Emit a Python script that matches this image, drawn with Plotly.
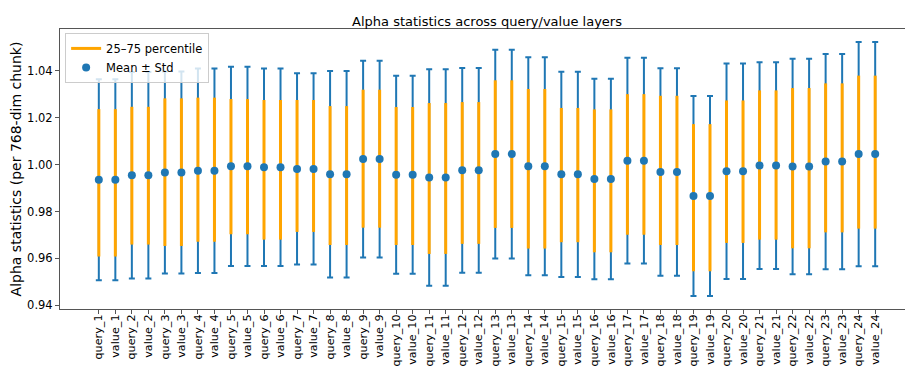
import plotly.graph_objects as go

labels = ["query_1", "value_1", "query_2", "value_2", "query_3", "value_3", "query_4", "value_4",
          "query_5", "value_5", "query_6", "value_6", "query_7", "value_7", "query_8", "value_8",
          "query_9", "value_9", "query_10", "value_10", "query_11", "value_11", "query_12", "value_12",
          "query_13", "value_13", "query_14", "value_14", "query_15", "value_15", "query_16", "value_16",
          "query_17", "value_17", "query_18", "value_18", "query_19", "value_19", "query_20", "value_20",
          "query_21", "value_21", "query_22", "value_22", "query_23", "value_23", "query_24", "value_24"]

means = [0.9936, 0.9936, 0.9955, 0.9955, 0.9967, 0.9967, 0.9974, 0.9974,
         0.9993, 0.9993, 0.9989, 0.9989, 0.9982, 0.9982, 0.9959, 0.9959,
         1.0024, 1.0024, 0.9957, 0.9957, 0.9945, 0.9945, 0.9976, 0.9976,
         1.0045, 1.0045, 0.9993, 0.9993, 0.9959, 0.9959, 0.9939, 0.9939,
         1.0017, 1.0017, 0.9969, 0.9969, 0.9866, 0.9866, 0.9972, 0.9972,
         0.9996, 0.9996, 0.9992, 0.9992, 1.0013, 1.0013, 1.0045, 1.0045]

stds = [0.0429, 0.0429, 0.0441, 0.0441, 0.0431, 0.0431, 0.0436, 0.0436,
        0.0425, 0.0425, 0.0421, 0.0421, 0.0408, 0.0408, 0.0441, 0.0441,
        0.0420, 0.0420, 0.0423, 0.0423, 0.0462, 0.0462, 0.0437, 0.0437,
        0.0445, 0.0445, 0.0465, 0.0465, 0.0438, 0.0438, 0.0428, 0.0428,
        0.0439, 0.0439, 0.0443, 0.0443, 0.0427, 0.0427, 0.0460, 0.0460,
        0.0441, 0.0441, 0.0460, 0.0460, 0.0459, 0.0459, 0.0479, 0.0479]

p25 = [0.9608, 0.9608, 0.9659, 0.9659, 0.9653, 0.9653, 0.9671, 0.9671,
       0.9703, 0.9703, 0.9680, 0.9680, 0.9713, 0.9713, 0.9657, 0.9657,
       0.9731, 0.9731, 0.9657, 0.9657, 0.9619, 0.9619, 0.9662, 0.9662,
       0.9730, 0.9730, 0.9642, 0.9642, 0.9669, 0.9669, 0.9626, 0.9626,
       0.9701, 0.9701, 0.9657, 0.9657, 0.9545, 0.9545, 0.9666, 0.9666,
       0.9680, 0.9680, 0.9643, 0.9643, 0.9711, 0.9711, 0.9727, 0.9727]

p75 = [1.0237, 1.0237, 1.0247, 1.0247, 1.0283, 1.0283, 1.0286, 1.0286,
       1.0280, 1.0280, 1.0276, 1.0276, 1.0276, 1.0276, 1.0250, 1.0250,
       1.0320, 1.0320, 1.0246, 1.0246, 1.0263, 1.0263, 1.0267, 1.0267,
       1.0360, 1.0360, 1.0323, 1.0323, 1.0242, 1.0242, 1.0236, 1.0236,
       1.0301, 1.0301, 1.0294, 1.0294, 1.0173, 1.0173, 1.0274, 1.0274,
       1.0317, 1.0317, 1.0327, 1.0327, 1.0347, 1.0347, 1.0380, 1.0380]

blue = "#1f77b4"
orange = "#ffa500"
x = list(range(len(labels)))

# orange percentile segments, one trace with gaps
seg_x, seg_y = [], []
for i in x:
    seg_x += [i, i, None]
    seg_y += [p25[i], p75[i], None]

fig = go.Figure()
# error bars only (marker hidden)
fig.add_trace(go.Scatter(
    x=x, y=means, mode="markers",
    marker=dict(size=1, color="rgba(0,0,0,0)"),
    error_y=dict(type="data", array=stds, visible=True, color=blue, thickness=2, width=3),
    showlegend=False, hoverinfo="skip"))
fig.add_trace(go.Scatter(
    x=seg_x, y=seg_y, mode="lines", line=dict(color=orange, width=3),
    name="25–75 percentile"))
fig.add_trace(go.Scatter(
    x=x, y=means, mode="markers", marker=dict(size=8, color=blue),
    name="Mean ± Std"))

fig.update_layout(
    width=913, height=366,
    margin=dict(l=52, r=7, t=21, b=65),
    plot_bgcolor="white", paper_bgcolor="white",
    font=dict(family="DejaVu Sans", size=12, color="black"),
    title=dict(text="Alpha statistics across query/value layers", x=0.5, xref="paper",
               y=0.964, yref="container", yanchor="middle", font=dict(size=13)),
    legend=dict(x=0.006, y=0.986, xanchor="left", yanchor="top",
                bgcolor="rgba(255,255,255,0.8)", bordercolor="#cccccc", borderwidth=1,
                font=dict(size=11.5), tracegroupgap=0),
    showlegend=True,
)
fig.update_xaxes(
    range=[-2.35, 49.35], tickmode="array", tickvals=x, ticktext=labels, tickangle=-90,
    automargin=False, tickfont=dict(size=11.2), ticklabelstandoff=-4,
    showgrid=False, zeroline=False, showline=True, linecolor="#555555", linewidth=1, mirror=True,
    ticks="outside", ticklen=4, tickcolor="#555555")
fig.update_yaxes(
    range=[0.9384, 1.0579], tickvals=[0.94, 0.96, 0.98, 1.00, 1.02, 1.04], tickformat=".2f",
    automargin=False, tickfont=dict(size=11.5),
    title=dict(text="Alpha statistics (per 768-dim chunk)", font=dict(size=14), standoff=6),
    showgrid=False, zeroline=False, showline=True, linecolor="#555555", linewidth=1, mirror=True,
    ticks="outside", ticklen=4, tickcolor="#555555")

fig.write_html("out.html")
